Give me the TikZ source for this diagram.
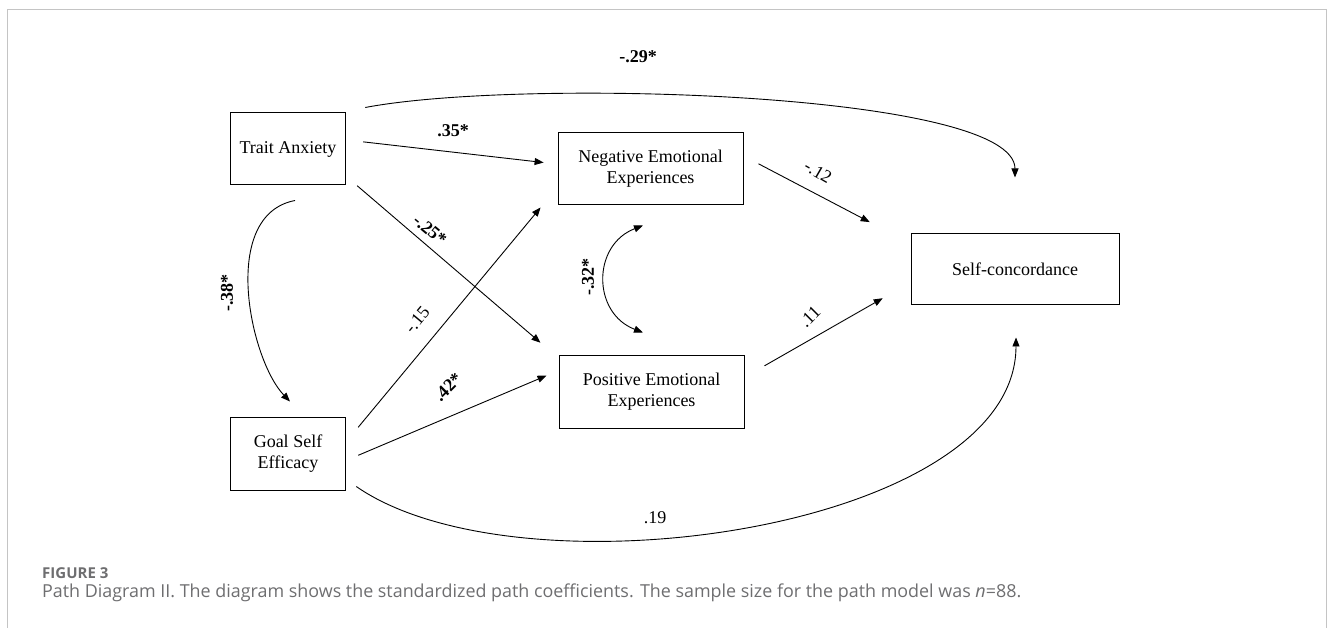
\documentclass[tikz,border=0pt]{standalone}
\usepackage{fontspec}
\setmainfont{Liberation Serif}
\newfontfamily\capfont{Open Sans}
\usetikzlibrary{arrows.meta}
\definecolor{framegray}{HTML}{C4C4C4}
\definecolor{capgray}{HTML}{6E6E70}

\begin{document}
\begin{tikzpicture}[x=1pt,y=-1pt,
  var/.style={draw,line width=1pt,align=center,inner sep=0pt,font=\fontsize{18}{21}\selectfont},
  eff/.style={line width=0.9pt,-{Triangle[length=9pt,width=7pt]}},
  coef/.style={font=\fontsize{18}{21}\selectfont},
  sig/.style={font=\fontsize{18}{21}\selectfont\bfseries}]
\useasboundingbox (0,0) rectangle (1331,628);
\draw[framegray,line width=1pt] (7,628)--(7,10)--(1326,10)--(1326,628);

 \node[var,minimum width=114.5pt,minimum height=72pt] (ta) at (288,149) {Trait Anxiety};
 \node[var,minimum width=114.5pt,minimum height=73pt] (gse) at (288,453.5) {Goal Self\\Efficacy};
 \node[var,minimum width=185pt,minimum height=72pt] (neg) at (650.5,169) {Negative Emotional\\Experiences};
 \node[var,minimum width=185pt,minimum height=72pt] (pos) at (651.5,392) {Positive Emotional\\Experiences};
 \node[var,minimum width=208pt,minimum height=71pt] (sc) at (1015,269.5) {Self-concordance};

  \draw[eff,shorten <=17.6pt,shorten >=14pt] (ta.9)--(neg.177);
  \draw[eff,shorten <=15pt,shorten >=23.7pt] (ta.-25)--(pos.160);
  \draw[eff,shorten <=19.5pt,shorten >=26.5pt] (gse.11)--(neg.191);
  \draw[eff,shorten <=13.5pt,shorten >=13pt] (gse.-7)--(pos.167);
  \draw[eff,shorten <=17pt,shorten >=46pt] (neg.8.5)--(sc.166);
  \draw[eff,shorten <=23pt,shorten >=32pt] (pos.9)--(sc.187);
  \draw[eff] ([shift={(19.5,-5)}]ta.north east) .. controls (520,78) and (1015,92) .. ([shift={(0,-56)}]sc.north);
  \draw[eff] ([shift={(10.5,-4)}]gse.south east) .. controls (520,600) and (1016,530) .. ([shift={(1,32)}]sc.south);
  \draw[eff] ([shift={(7,15)}]ta.south) .. controls (219,215) and (250,360) .. ([shift={(2,-15)}]gse.north);
  \draw[eff,{Triangle[length=9pt,width=7pt]}-{Triangle[length=9pt,width=7pt]}] ([shift={(-7.5,20)}]neg.south) .. controls (592,245) and (592,313) .. ([shift={(-8.5,-23)}]pos.north);

 \node[sig] (c29) at (638,57) {-.29*};
 \node[sig] (c35) at (453,131) {.35*};
 \node[sig,rotate=-40] (c25) at (430,230) {-.25*};
 \node[sig,rotate=90] (c38) at (227,293) {-.38*};
 \node[coef,rotate=50] (c15) at (417,320) {-.15};
 \node[sig,rotate=45] (c42) at (448,387) {.42*};
 \node[sig,rotate=90] (c32) at (588,277) {-.32*};
 \node[coef,rotate=-30] (c12) at (818,172) {-.12};
 \node[coef,rotate=45] (c11) at (810,317) {.11};
 \node[coef] (c19) at (655,518) {.19};

 \node[anchor=base west,inner sep=0pt,text=capgray,font=\capfont\fontsize{15}{18}\selectfont\bfseries] (fig) at (42,578) {FIGURE 3};
 \node[anchor=base west,inner sep=0pt,text=capgray,font=\capfont\fontsize{17.9}{21}\selectfont] (cap) at (42,597) {Path Diagram II. The diagram shows the standardized path coefficients. The sample size for the path model was \textit{n}=88.};
\end{tikzpicture}
\end{document}
